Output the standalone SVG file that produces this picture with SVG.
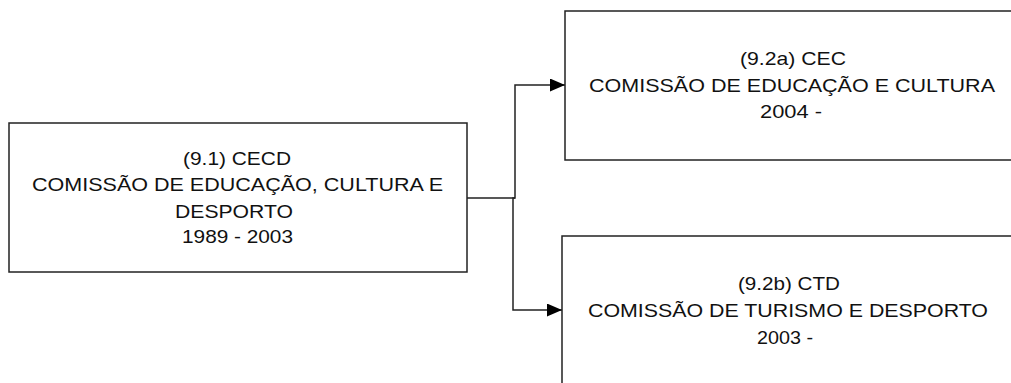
<svg xmlns="http://www.w3.org/2000/svg" width="1011" height="383" viewBox="0 0 1011 383">
<style>
.box{fill:#fff;stroke:#222;stroke-width:1.5}
.t{font-family:"Liberation Sans",Arial,sans-serif;font-size:19px;fill:#111;text-anchor:middle}
.c{fill:none;stroke:#222;stroke-width:1.5}
</style>
<defs>
<marker id="arr" markerUnits="userSpaceOnUse" markerWidth="16" markerHeight="14" refX="15" refY="6.5" orient="auto">
<path d="M0,0 L15,6.5 L0,13 z" fill="#000"/>
</marker>
</defs>
<rect width="1011" height="383" fill="#fff"/>
<g id="connectors">
<polyline class="c" points="467,198 515,198 515,85 565,85" marker-end="url(#arr)"/>
<polyline class="c" points="515,198 513,198 513,310 562,310" marker-end="url(#arr)"/>
</g>
<g id="n91">
<rect class="box" x="9" y="123" width="458" height="149"/>
<text class="t" x="237" y="165" textLength="108" lengthAdjust="spacingAndGlyphs">(9.1) CECD</text>
<text class="t" x="237.5" y="191" textLength="411" lengthAdjust="spacingAndGlyphs">COMISSÃO DE EDUCAÇÃO, CULTURA E</text>
<text class="t" x="234" y="218" textLength="118" lengthAdjust="spacingAndGlyphs">DESPORTO</text>
<text class="t" x="237.5" y="243" textLength="111" lengthAdjust="spacingAndGlyphs">1989 - 2003</text>
</g>
<g id="n92a">
<rect class="box" x="565" y="11" width="454" height="149"/>
<text class="t" x="793" y="65" textLength="106" lengthAdjust="spacingAndGlyphs">(9.2a) CEC</text>
<text class="t" x="792" y="92" textLength="406" lengthAdjust="spacingAndGlyphs">COMISSÃO DE EDUCAÇÃO E CULTURA</text>
<text class="t" x="791" y="118" textLength="62" lengthAdjust="spacingAndGlyphs">2004 -</text>
</g>
<g id="n92b">
<rect class="box" x="562" y="236" width="452" height="160"/>
<text class="t" x="789" y="290" textLength="102" lengthAdjust="spacingAndGlyphs">(9.2b) CTD</text>
<text class="t" x="788" y="317" textLength="400" lengthAdjust="spacingAndGlyphs">COMISSÃO DE TURISMO E DESPORTO</text>
<text class="t" x="785" y="344" textLength="56" lengthAdjust="spacingAndGlyphs">2003 -</text>
</g>
</svg>
